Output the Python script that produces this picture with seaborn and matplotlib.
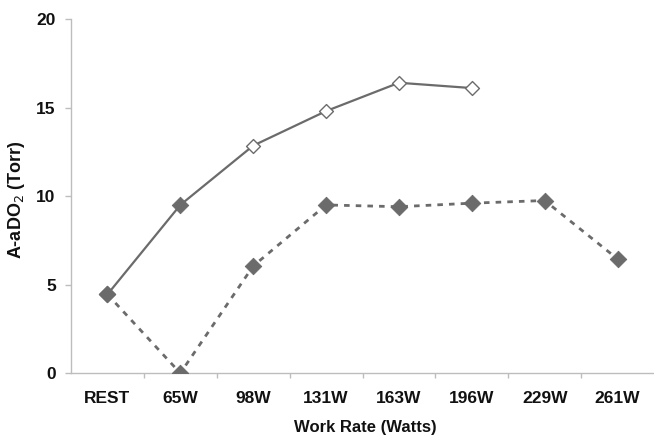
import matplotlib
matplotlib.use("Agg")
import matplotlib.pyplot as plt
import seaborn as sns
import pandas as pd
import numpy as np
from matplotlib.ticker import FixedLocator

categories = ["REST", "65W", "98W", "131W", "163W", "196W", "229W", "261W"]
solid_vals = [4.45, 9.5, 12.85, 14.8, 16.4, 16.1]
dashed_vals = [4.45, 0.0, 6.05, 9.5, 9.4, 9.6, 9.75, 6.45]
solid_filled = [True, True, False, False, False, False]
yticks = [0, 5, 10, 15, 20]

sns.set_theme(style="white")
plt.rcParams["font.family"] = ["Liberation Sans", "DejaVu Sans"]

gray = "#6b6b6b"
fig = plt.figure(figsize=(6.54, 4.38), dpi=100)
ax = fig.add_axes([0.1086, 0.148, 0.8914, 0.8086])

df_s = pd.DataFrame({"x": np.arange(len(solid_vals)), "y": solid_vals, "filled": solid_filled})
df_d = pd.DataFrame({"x": np.arange(len(dashed_vals)), "y": dashed_vals})

sns.lineplot(data=df_d, x="x", y="y", ax=ax, color=gray, lw=2, linestyle=(0, (2, 2.2)))
sns.lineplot(data=df_s, x="x", y="y", ax=ax, color=gray, lw=1.6)
sns.scatterplot(data=df_d, x="x", y="y", ax=ax, marker="D", s=70, color=gray,
                edgecolor=gray, zorder=5)
sns.scatterplot(data=df_s[df_s.filled], x="x", y="y", ax=ax, marker="D", s=70,
                color=gray, edgecolor=gray, zorder=6)
sns.scatterplot(data=df_s[~df_s.filled], x="x", y="y", ax=ax, marker="D", s=50,
                color="white", edgecolor=gray, linewidth=1.0, zorder=6)

ax.set_xlim(-0.5, len(categories) - 0.5)
ax.set_ylim(0, 20)
ax.set_xticks(range(len(categories)))
ax.set_xticklabels(categories, fontsize=12.5, fontweight="bold", color="#111111")
ax.xaxis.set_minor_locator(FixedLocator(np.arange(0.5, len(categories) - 0.5, 1)))
ax.tick_params(axis="x", which="major", length=0, pad=13)
ax.tick_params(axis="x", which="minor", length=3.5, color="#bdbdbd", width=1, direction="out", bottom=True)
ax.set_yticks(yticks)
ax.set_yticklabels([str(v) for v in yticks], fontsize=12.5, fontweight="bold", color="#111111")
ax.tick_params(axis="y", length=4, color="#bdbdbd", width=1, direction="out", left=True, pad=7)

for s in ["top", "right"]:
    ax.spines[s].set_visible(False)
for s in ["left", "bottom"]:
    ax.spines[s].set_color("#bdbdbd")
    ax.spines[s].set_linewidth(1)

ax.set_xlabel("Work Rate (Watts)", fontsize=12, fontweight="bold", color="#111111")
ax.xaxis.set_label_coords(0.505, -0.131)
ax.set_ylabel("A-aDO$_2$ (Torr)", fontsize=13, fontweight="bold", color="#111111")
ax.yaxis.set_label_coords(-0.076, 0.49)
ax.grid(False)

fig.savefig("out.png", dpi=100)
